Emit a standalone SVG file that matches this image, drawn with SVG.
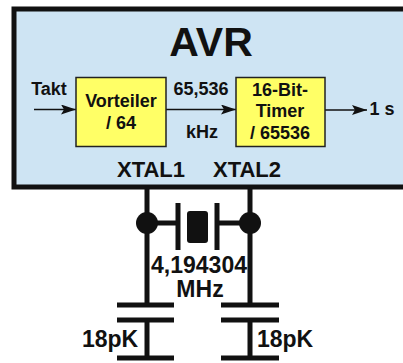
<svg xmlns="http://www.w3.org/2000/svg" width="403" height="363" viewBox="0 0 403 363">
<style>
text{font-family:"Liberation Sans",Arial,sans-serif;font-weight:700;fill:#111;text-anchor:middle}
.t{font-size:18px}
.x{font-size:22px}
.m{font-size:23px}
.b{fill:#ffff66;stroke:#222;stroke-width:1.5}
.c{stroke:#111;stroke-width:1.5;fill:none}
.w{stroke:#111;stroke-width:5;fill:none}
</style>
<defs>
<marker id="a" markerUnits="userSpaceOnUse" markerWidth="16" markerHeight="10" refX="15" refY="5" orient="auto"><path d="M0 0L15 5L0 10L3 5Z" fill="#111"/></marker>
</defs>
<rect width="403" height="363" fill="#fff"/>
<g id="avr">
<rect x="14" y="9" width="395" height="178" fill="#cee4f3" stroke="#111" stroke-width="5"/>
<text x="211" y="56" font-size="41">AVR</text>
</g>
<g id="connectors">
<path class="c" marker-end="url(#a)" d="M34 109.500H76"/>
<path class="c" marker-end="url(#a)" d="M166 109.500H236"/>
<path class="c" marker-end="url(#a)" d="M325 110H367"/>
<path class="w" d="M147 189V305M250 189V305M147 223H176M250 223H218"/>
<path class="w" d="M178 203V250M217 203V250"/>
<path class="w" d="M117 305H174M221 305H279M117 320H174M221 320H279M117 358H174M221 358H279M147 320V358M250 320V358"/>
</g>
<g id="vorteiler">
<rect class="b" x="76" y="77.500" width="90" height="69"/>
<text class="t" x="121" y="107">Vorteiler</text>
<text class="t" x="121" y="129">/ 64</text>
</g>
<g id="timer">
<rect class="b" x="236" y="77.500" width="89" height="69"/>
<text class="t" x="280" y="96">16-Bit-</text>
<text class="t" x="280" y="117">Timer</text>
<text class="t" x="280" y="139">/ 65536</text>
</g>
<g id="labels">
<text class="t" x="49" y="95">Takt</text>
<text class="t" x="201" y="95">65,536</text>
<text class="t" x="202" y="138">kHz</text>
<text class="t" x="382" y="115">1 s</text>
<text class="x" x="151" y="177">XTAL1</text>
<text class="x" x="247" y="177">XTAL2</text>
</g>
<g id="crystal">
<rect x="187" y="211" width="21" height="32" rx="3" fill="#111"/>
<circle cx="147" cy="223" r="11" fill="#111"/>
<circle cx="250" cy="223" r="11" fill="#111"/>
<text class="m" x="199" y="273">4,194304</text>
<text class="m" x="200" y="297">MHz</text>
</g>
<g id="caps">
<text class="m" x="110" y="347">18pK</text>
<text class="m" x="285" y="347">18pK</text>
</g>
</svg>
